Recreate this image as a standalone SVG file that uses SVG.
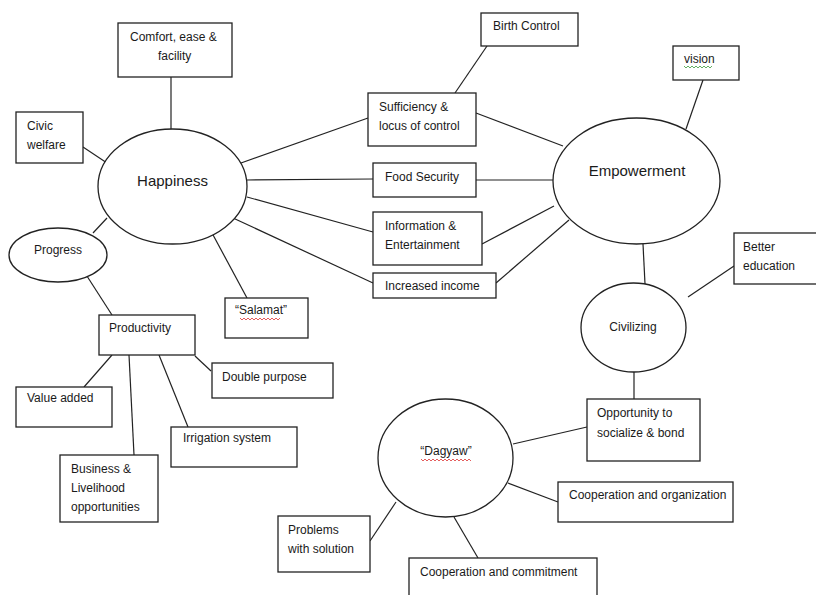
<svg xmlns="http://www.w3.org/2000/svg" width="816" height="595" viewBox="0 0 816 595">
<style>
.b{fill:#fff;stroke:#222;stroke-width:1.3}
.t{font-family:"Liberation Sans",Arial,sans-serif;font-size:12px;fill:#1a1a1a}
.big{font-size:15px}
.c line{stroke:#222;stroke-width:1.2}
.sq{fill:none;stroke-width:0.8}
</style>
<rect width="816" height="595" fill="#fff"/>
<g class="c" id="connectors">
<line x1="171" y1="77" x2="171" y2="129"/>
<line x1="83" y1="147" x2="107" y2="163"/>
<line x1="107" y1="218" x2="93" y2="233"/>
<line x1="85" y1="273" x2="112" y2="315"/>
<line x1="241" y1="163" x2="368" y2="118"/>
<line x1="247" y1="180" x2="373" y2="179"/>
<line x1="247" y1="197" x2="373" y2="232"/>
<line x1="233" y1="218" x2="373" y2="283"/>
<line x1="212" y1="233" x2="247" y2="298"/>
<line x1="487" y1="46" x2="455" y2="93"/>
<line x1="476" y1="113" x2="563" y2="146"/>
<line x1="476" y1="180" x2="553" y2="180"/>
<line x1="482" y1="244" x2="554" y2="206"/>
<line x1="496" y1="283" x2="569" y2="220"/>
<line x1="703" y1="80" x2="686" y2="129"/>
<line x1="643" y1="244" x2="645" y2="284"/>
<line x1="734" y1="266" x2="688" y2="297"/>
<line x1="634" y1="372" x2="634" y2="399"/>
<line x1="513" y1="444" x2="587" y2="427"/>
<line x1="508" y1="483" x2="558" y2="502"/>
<line x1="454" y1="517" x2="478" y2="558"/>
<line x1="396" y1="502" x2="370" y2="541"/>
<line x1="112" y1="355" x2="84" y2="387"/>
<line x1="129" y1="355" x2="134" y2="455"/>
<line x1="159" y1="355" x2="188" y2="427"/>
<line x1="195" y1="356" x2="211" y2="371"/>
</g>
<g id="comfort"><rect class="b" x="118" y="23" width="114" height="54"/><text class="t" x="130" y="41">Comfort, ease &amp;</text><text class="t" x="158" y="60">facility</text></g>
<g id="civic"><rect class="b" x="16" y="112" width="67" height="51"/><text class="t" x="27" y="130">Civic</text><text class="t" x="27" y="149">welfare</text></g>
<g id="happiness"><ellipse class="b" cx="172.5" cy="186.5" rx="74.5" ry="57.5"/><text class="t big" x="172.5" y="186" text-anchor="middle">Happiness</text></g>
<g id="progress"><ellipse class="b" cx="58" cy="255" rx="49" ry="27"/><text class="t" x="58" y="254" text-anchor="middle">Progress</text></g>
<g id="birth"><rect class="b" x="481" y="13" width="97" height="33"/><text class="t" x="493" y="30">Birth Control</text></g>
<g id="sufficiency"><rect class="b" x="368" y="93" width="108" height="53"/><text class="t" x="379" y="111">Sufficiency &amp;</text><text class="t" x="379" y="130">locus of control</text></g>
<g id="food"><rect class="b" x="373" y="163" width="103" height="34"/><text class="t" x="385" y="181">Food Security</text></g>
<g id="info"><rect class="b" x="373" y="212" width="109" height="53"/><text class="t" x="385" y="230">Information &amp;</text><text class="t" x="385" y="249">Entertainment</text></g>
<g id="income"><rect class="b" x="373" y="273" width="123" height="25"/><text class="t" x="385" y="290">Increased income</text></g>
<g id="empowerment"><ellipse class="b" cx="636.5" cy="181" rx="83.5" ry="63"/><text class="t big" x="637" y="176" text-anchor="middle">Empowerment</text></g>
<g id="vision"><rect class="b" x="673" y="46" width="66" height="34"/><text class="t" x="684" y="63">vision</text><path class="sq" stroke="#3a9a3a" d="M684,66 l2,2 l2,-2 l2,2 l2,-2 l2,2 l2,-2 l2,2 l2,-2 l2,2 l2,-2 l2,2 l2,-2 l2,2 l2,-2"/></g>
<g id="better"><rect class="b" x="734" y="233" width="86" height="51"/><text class="t" x="743" y="251">Better</text><text class="t" x="743" y="270">education</text></g>
<g id="civilizing"><ellipse class="b" cx="633.5" cy="327.5" rx="52.5" ry="44.5"/><text class="t" x="633" y="331" text-anchor="middle">Civilizing</text></g>
<g id="opportunity"><rect class="b" x="587" y="399" width="113" height="62"/><text class="t" x="597" y="417">Opportunity to</text><text class="t" x="597" y="437">socialize &amp; bond</text></g>
<g id="dagyaw"><ellipse class="b" cx="445.5" cy="458" rx="67.5" ry="59"/><text class="t" x="446" y="455" text-anchor="middle">“Dagyaw”</text><path class="sq" stroke="#d33" d="M421,459 l2,2 l2,-2 l2,2 l2,-2 l2,2 l2,-2 l2,2 l2,-2 l2,2 l2,-2 l2,2 l2,-2 l2,2 l2,-2 l2,2 l2,-2 l2,2 l2,-2 l2,2 l2,-2 l2,2 l2,-2 l2,2 l2,-2 l2,2"/></g>
<g id="coop-org"><rect class="b" x="558" y="482" width="175" height="40"/><text class="t" x="569" y="499">Cooperation and organization</text></g>
<g id="coop-commit"><rect class="b" x="409" y="558" width="188" height="45"/><text class="t" x="420" y="576">Cooperation and commitment</text></g>
<g id="problems"><rect class="b" x="278" y="516" width="92" height="56"/><text class="t" x="288" y="534">Problems</text><text class="t" x="288" y="553">with solution</text></g>
<g id="salamat"><rect class="b" x="225" y="298" width="83" height="40"/><text class="t" x="235" y="314">“Salamat”</text><path class="sq" stroke="#d33" d="M240,318 l2,2 l2,-2 l2,2 l2,-2 l2,2 l2,-2 l2,2 l2,-2 l2,2 l2,-2 l2,2 l2,-2 l2,2 l2,-2 l2,2 l2,-2 l2,2 l2,-2 l2,2 l2,-2"/></g>
<g id="productivity"><rect class="b" x="99" y="315" width="96" height="40"/><text class="t" x="109" y="332">Productivity</text></g>
<g id="value"><rect class="b" x="16" y="387" width="96" height="40"/><text class="t" x="27" y="402">Value added</text></g>
<g id="business"><rect class="b" x="60" y="455" width="98" height="67"/><text class="t" x="71" y="473">Business &amp;</text><text class="t" x="71" y="492">Livelihood</text><text class="t" x="71" y="511">opportunities</text></g>
<g id="irrigation"><rect class="b" x="171" y="427" width="126" height="40"/><text class="t" x="183" y="442">Irrigation system</text></g>
<g id="double"><rect class="b" x="212" y="363" width="121" height="35"/><text class="t" x="222" y="381">Double purpose</text></g>
</svg>
